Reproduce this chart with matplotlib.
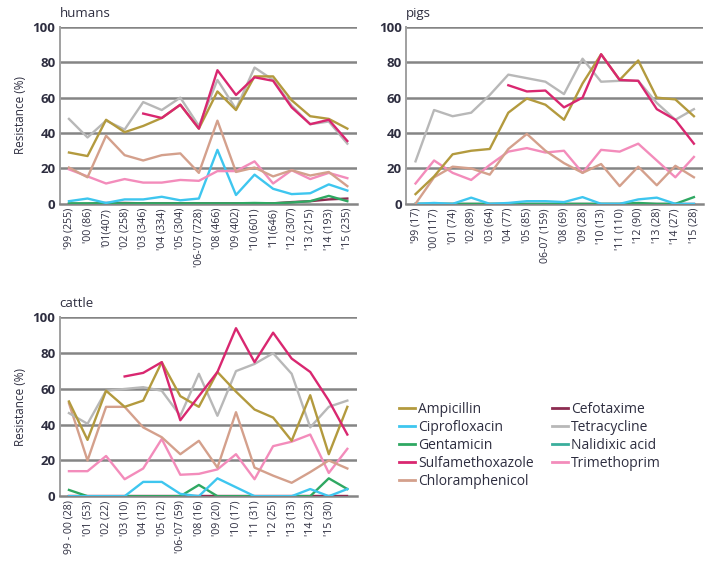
import numpy as np
import matplotlib.pyplot as plt
from matplotlib.lines import Line2D

plt.rcParams['font.family'] = ['Open Sans', 'DejaVu Sans']

# x labels
humans_labels = ["'99 (255)", "'00 (86)", "'01(407)", "'02 (258)", "'03 (346)", "'04 (334)",
                 "'05 (304)", "'06-'07 (728)", "'08 (466)", "'09 (402)", "'10 (601)", "'11(646)",
                 "'12 (307)", "'13 (215)", "'14 (193)", "'15 (235)"]
pigs_labels = ["'99 (17)", "'00 (117)", "'01 (74)", "'02 (89)", "'03 (64)", "'04 (77)",
               "'05 (85)", "06-07 (159)", "'08 (69)", "'09 (28)", "'10 (13)", "'11 (110)",
               "'12 (90)", "'13 (28)", "'14 (27)", "'15 (28)"]
cattle_labels = ["99 - 00 (28)", "'01 (53)", "'02 (22)", "'03 (10)", "'04 (13)", "'05 (12)",
                 "'06-'07 (59)", "'08 (16)", "'09 (20)", "'10 (17)", "'11 (31)", "'12 (25)",
                 "'13 (13)", "'14 (23)", "'15 (30)"]

nan = np.nan

# humans
h_amp = [29, 27, 47.5, 40.5, 44, 48.5, 56, 42.5, 63.5, 53, 72, 72, 58.5, 49.5, 48, 42.5]
h_cip = [1.5, 3, 0.5, 2.5, 2.5, 4, 2, 3, 30.5, 5, 16.5, 8.5, 5.5, 6, 11, 7.5]
h_gen = [0.3, 0.3, 0.3, 0.3, 0.3, 0.3, 0.3, 0.3, 0.3, 0.3, 0.5, 0.3, 0.8, 1.5, 4.5, 1.5]
h_sul = [nan, nan, nan, nan, 51, 48.5, 56, 42.5, 75.5, 61.5, 71.5, 69.5, 54.5, 45, 47.5, 35.5]
h_chl = [20.5, 15, 38.5, 27.5, 24.5, 27.5, 28.5, 17.5, 47, 18, 20.5, 15.5, 19, 16, 18, 10]
h_cef = [0, 0, 0.5, 0.5, 0.3, 0.3, 0.3, 0.3, 0.3, 0.3, 0.3, 0.3, 1, 1.5, 2.5, 3]
h_tet = [48, 37.5, 47, 42, 57.5, 53, 60, 44, 70, 53.5, 77, 70, 55.5, 45, 46.5, 34]
h_tmp = [19.5, 15.5, 11.5, 14, 12, 12, 13.5, 13, 18.5, 18.5, 24, 11.5, 19, 14, 17.5, 14.5]

# pigs
p_amp = [5.5, 15.5, 28, 30, 31, 51.5, 59.5, 56, 47.5, 68, 84.5, 70, 81, 60, 59, 49.5]
p_cip = [0, 0.5, 0, 3.5, 0, 0.5, 1.5, 1.5, 1, 3.8, 0, 0, 2.5, 3.5, 0, 0]
p_gen = [0, 0, 0, 0, 0, 0, 0, 0, 0, 0, 0, 0, 0.5, 0, 0, 3.8]
p_sul = [nan, nan, nan, nan, nan, 67, 63.5, 64, 54.5, 60, 84.5, 70, 69.5, 53.5, 47.5, 34]
p_chl = [0, 15, 21, 20, 16.5, 31, 39.5, 30, 23, 17.5, 22.5, 10, 21, 10.5, 21.5, 15]
p_cef = [0] * 16
p_tet = [24, 53, 49.5, 51.5, 61.5, 73, 71, 69, 62, 82, 69, 69.5, 69.5, 57, 47.5, 53.5]
p_tmp = [11.5, 24.5, 17.5, 13.5, 22, 29.5, 31.5, 29, 30, 17.5, 30.5, 29.5, 34, 24.5, 15, 26.5]

# cattle
c_amp = [53, 31.5, 59, 50, 53.5, 75, 56, 50, 69.5, 58.5, 48.5, 44, 31, 56.5, 23.5, 50]
c_cip = [0, 0, 0, 0, 8, 8, 1.3, 0, 10, 5, 0, 0, 0, 4, 0, 4]
c_gen = [3.5, 0, 0, 0, 0, 0, 0, 6.3, 0, 0, 0, 0, 0, 0, 10, 4]
c_sul = [nan, nan, nan, 67, 69, 75, 42.5, 56, 69.5, 94, 75, 91.5, 77, 69.5, 53.5, 34.5]
c_chl = [52, 20, 50, 50, 38.5, 33, 23.5, 31, 16, 47, 16, 11.5, 7.5, 13.5, 20, 15.5]
c_cef = [0] * 16
c_tet = [46.5, 40.5, 59, 60, 61, 59, 45, 68.5, 45, 70, 74, 80, 68.5, 38.5, 50, 53.5]
c_tmp = [14, 14, 22.5, 9.5, 15.5, 32, 12, 12.5, 15, 23.5, 9.5, 28, 30.5, 34.5, 13, 26.5]

names = ['Ampicillin', 'Ciprofloxacin', 'Gentamicin', 'Sulfamethoxazole', 'Chloramphenicol',
         'Cefotaxime', 'Tetracycline', 'Nalidixic acid', 'Trimethoprim']
colors = {'Ampicillin': '#b39a3e', 'Ciprofloxacin': '#3ec6ef', 'Gentamicin': '#2fa862',
          'Sulfamethoxazole': '#d92770', 'Chloramphenicol': '#d4a08c', 'Cefotaxime': '#8c2c50',
          'Tetracycline': '#b8b8b8', 'Nalidixic acid': '#3aae9c', 'Trimethoprim': '#f38cbb'}

# draw order (back to front)
order = ['Cefotaxime', 'Gentamicin', 'Ciprofloxacin', 'Trimethoprim', 'Chloramphenicol',
         'Tetracycline', 'Ampicillin', 'Sulfamethoxazole']

panels = [
    ('humans', humans_labels, {'Ampicillin': h_amp, 'Ciprofloxacin': h_cip, 'Gentamicin': h_gen,
                               'Sulfamethoxazole': h_sul, 'Chloramphenicol': h_chl,
                               'Cefotaxime': h_cef, 'Tetracycline': h_tet, 'Trimethoprim': h_tmp},
     [0.083, 0.643, 0.413, 0.31], True),
    ('pigs', pigs_labels, {'Ampicillin': p_amp, 'Ciprofloxacin': p_cip, 'Gentamicin': p_gen,
                           'Sulfamethoxazole': p_sul, 'Chloramphenicol': p_chl,
                           'Cefotaxime': p_cef, 'Tetracycline': p_tet, 'Trimethoprim': p_tmp},
     [0.565, 0.643, 0.413, 0.31], False),
    ('cattle', cattle_labels, {'Ampicillin': c_amp, 'Ciprofloxacin': c_cip, 'Gentamicin': c_gen,
                               'Sulfamethoxazole': c_sul, 'Chloramphenicol': c_chl,
                               'Cefotaxime': c_cef, 'Tetracycline': c_tet, 'Trimethoprim': c_tmp},
     [0.083, 0.131, 0.413, 0.313], True),
]

txt = '#2e2e40'
fig = plt.figure(figsize=(7.19, 5.71), dpi=100)

for title, labels, data, rect, ylab in panels:
    ax = fig.add_axes(rect)
    x = np.arange(16)
    for k in order:
        ax.plot(x, data[k], color=colors[k], lw=1.7, zorder=3)
    ax.set_xlim(-0.5, 15.5)
    ax.set_ylim(0, 100)
    ax.set_yticks([0, 20, 40, 60, 80, 100])
    for yv in [20, 40, 60, 80, 100]:
        ax.axhline(yv, color='#858585', lw=1.8, zorder=1)
    ax.set_xticks(np.arange(len(labels)))
    ax.set_xticklabels(labels, rotation=90, fontsize=7.6, color=txt)
    ax.tick_params(axis='y', length=0, labelsize=9.5, labelcolor=txt, pad=3)
    ax.tick_params(axis='x', length=0, pad=3)
    for lab in ax.get_yticklabels():
        lab.set_fontweight('bold')
    for s in ['top', 'right']:
        ax.spines[s].set_visible(False)
    ax.spines['left'].set_color('#a0a0a0')
    ax.spines['left'].set_linewidth(1.4)
    ax.spines['bottom'].set_color('#858585')
    ax.spines['bottom'].set_linewidth(1.8)
    ax.text(0, 1.04, title, transform=ax.transAxes, fontsize=9.5, color=txt,
            ha='left', va='bottom')
    if ylab:
        ax.set_ylabel('Resistance (%)', fontsize=8.5, color=txt, labelpad=4)

handles = [Line2D([], [], color=colors[n], lw=2) for n in names]
fig.legend(handles, names, ncol=2, loc='upper left', bbox_to_anchor=(0.537, 0.318),
           frameon=False, fontsize=10, handlelength=1.2, handletextpad=0.2,
           labelspacing=0.22, columnspacing=1.3, labelcolor=txt)

fig.savefig('out.png', dpi=100)
